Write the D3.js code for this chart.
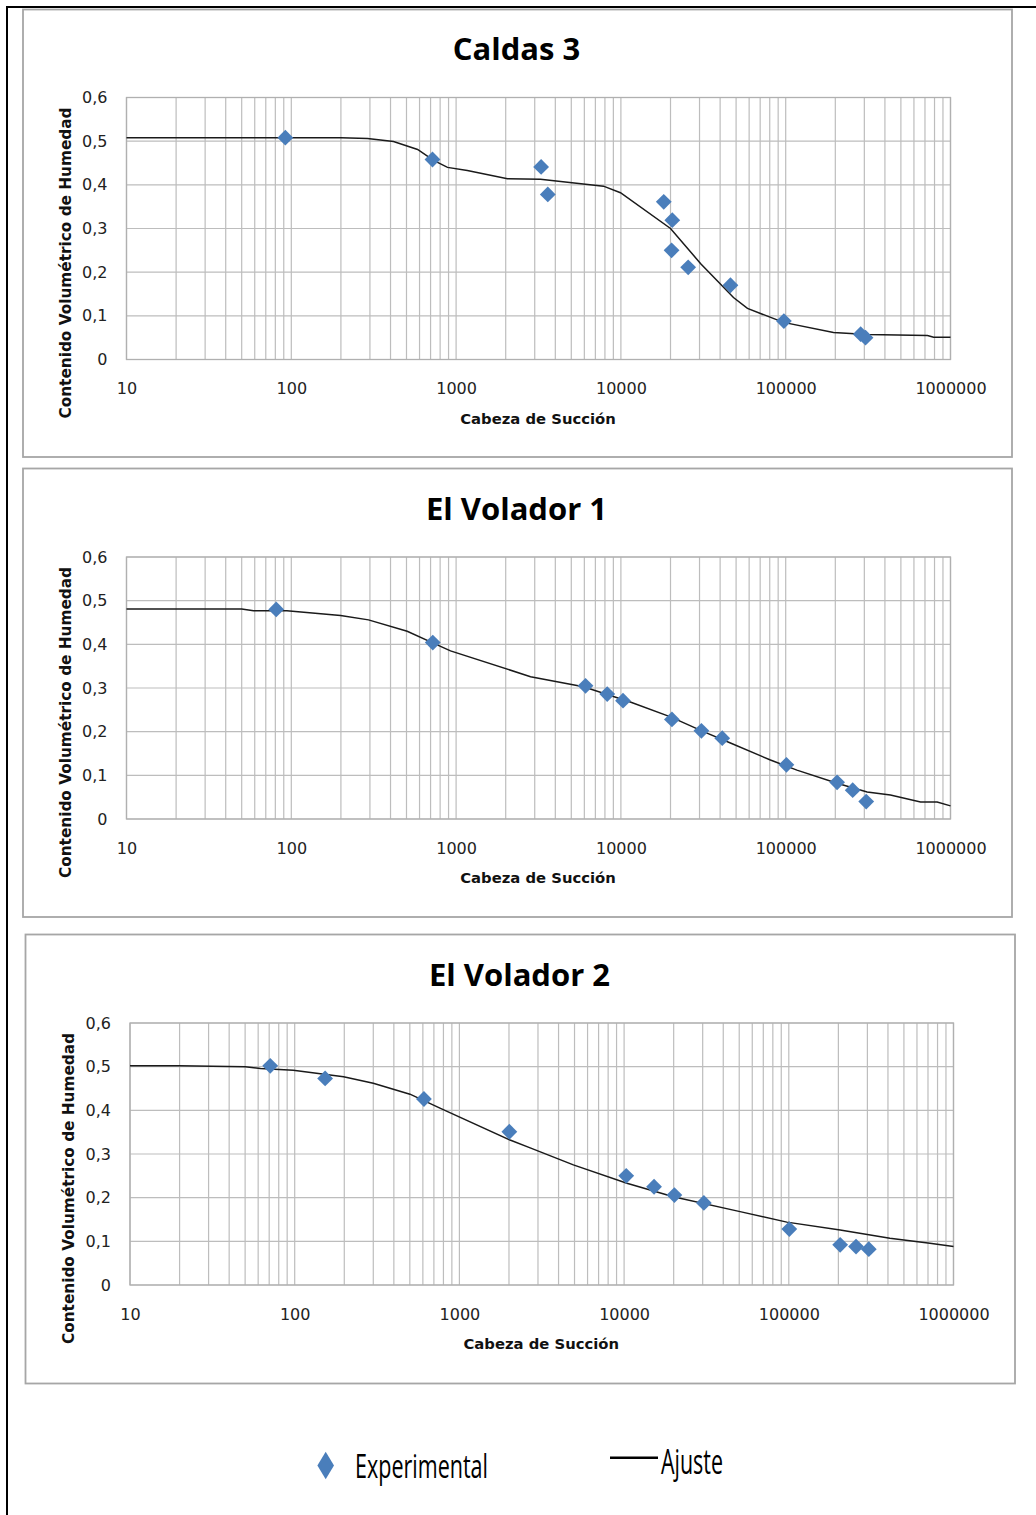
<!DOCTYPE html>
<html>
<head>
<meta charset="utf-8">
<script src="https://cdn.jsdelivr.net/npm/d3@7"></script>
<style>
body { margin: 0; background: #fff; }
svg { display: block; }
</style>
</head>
<body>
<svg id="chart" width="1036" height="1515"></svg>
<script>
// axis values
var xTicks = [10, 100, 1000, 10000, 100000, 1000000];
var yTicks = [0, 0.1, 0.2, 0.3, 0.4, 0.5, 0.6];
var titles = ["Caldas 3", "El Volador 1", "El Volador 2"];
var xTitle = "Cabeza de Succión";
var yTitle = "Contenido Volumétrico de Humedad";
var legendLabels = ["Experimental", "Ajuste"];

// Caldas 3
var caldas3ExpX = [92, 719, 3280, 3600, 18200, 20500, 20300, 25600, 46200, 97500, 285000, 305000];
var caldas3ExpY = [0.508, 0.458, 0.441, 0.378, 0.361, 0.319, 0.250, 0.211, 0.170, 0.088, 0.058, 0.050];
var caldas3FitX = [10, 200, 290, 417, 584, 730, 887, 1170, 2050, 3250, 7840, 9940, 20000, 30400, 48200, 58600, 97000, 195000, 313000, 725000, 790000, 1000000];
var caldas3FitY = [0.508, 0.508, 0.506, 0.499, 0.481, 0.456, 0.440, 0.433, 0.414, 0.413, 0.397, 0.382, 0.300, 0.220, 0.142, 0.117, 0.085, 0.062, 0.057, 0.055, 0.051, 0.051];

// El Volador 1
var volador1ExpX = [81, 722, 6100, 8260, 10300, 20400, 30800, 41200, 101000, 205000, 255000, 308000];
var volador1ExpY = [0.480, 0.404, 0.305, 0.286, 0.271, 0.228, 0.202, 0.185, 0.124, 0.084, 0.066, 0.040];
var volador1FitX = [10, 50, 59, 71, 94, 199, 294, 505, 716, 925, 2830, 5930, 11400, 20000, 31700, 46200, 80800, 117000, 205000, 312000, 432000, 658000, 830000, 1000000];
var volador1FitY = [0.481, 0.481, 0.477, 0.477, 0.477, 0.466, 0.456, 0.430, 0.404, 0.385, 0.326, 0.303, 0.268, 0.234, 0.200, 0.174, 0.135, 0.112, 0.082, 0.062, 0.055, 0.039, 0.039, 0.030];

// El Volador 2
var volador2ExpX = [71, 153, 609, 2010, 10300, 15200, 20200, 30500, 100700, 205000, 256000, 306000];
var volador2ExpY = [0.502, 0.473, 0.426, 0.351, 0.250, 0.225, 0.206, 0.188, 0.128, 0.092, 0.088, 0.082];
var volador2FitX = [10, 20, 50, 62, 98, 198, 300, 501, 762, 2030, 2690, 4920, 10400, 19900, 50600, 97300, 205000, 411000, 719000, 1000000];
var volador2FitY = [0.502, 0.502, 0.500, 0.496, 0.492, 0.477, 0.462, 0.437, 0.405, 0.332, 0.314, 0.275, 0.233, 0.202, 0.168, 0.144, 0.126, 0.107, 0.0955, 0.088];

var blue = "#4a7ebb";
var gridColor = "#bdbdbd";

var svg = d3.select("#chart");

// outer frame (only left and top visible)
svg.append("line").attr("x1", 7).attr("y1", 6).attr("x2", 7).attr("y2", 1515)
  .attr("stroke", "#000").attr("stroke-width", 2);
svg.append("line").attr("x1", 6).attr("y1", 7).attr("x2", 1036).attr("y2", 7)
  .attr("stroke", "#000").attr("stroke-width", 2);

var panels = [
  { title: titles[0], ex: caldas3ExpX, ey: caldas3ExpY, fx: caldas3FitX, fy: caldas3FitY,
    box: [23, 9.5, 1012, 457], plot: [126.5, 97.5, 950.5, 359.5], titleX: 516.5, titleY: 60 },
  { title: titles[1], ex: volador1ExpX, ey: volador1ExpY, fx: volador1FitX, fy: volador1FitY,
    box: [23, 468.5, 1012, 917], plot: [126.5, 557, 950.5, 819], titleX: 516.5, titleY: 520 },
  { title: titles[2], ex: volador2ExpX, ey: volador2ExpY, fx: volador2FitX, fy: volador2FitY,
    box: [25.5, 934.5, 1015, 1383.5], plot: [130, 1023, 953.5, 1285], titleX: 519.5, titleY: 986 }
];

var commaFmt = d3.formatLocale({ decimal: ",", thousands: ".", grouping: [3], currency: ["", ""] }).format(".1f");

panels.forEach(function (p) {
  var left = p.plot[0], top = p.plot[1], right = p.plot[2], bottom = p.plot[3];

  // panel box
  svg.append("rect")
    .attr("x", p.box[0]).attr("y", p.box[1])
    .attr("width", p.box[2] - p.box[0]).attr("height", p.box[3] - p.box[1])
    .attr("fill", "#fff").attr("stroke", "#a6a6a6").attr("stroke-width", 1.8);

  svg.append("text")
    .attr("x", p.titleX).attr("y", p.titleY)
    .attr("text-anchor", "middle")
    .style("font-family", "'Open Sans', sans-serif")
    .style("font-weight", "bold")
    .style("font-size", "31px")
    .style("fill", "#000")
    .text(p.title);

  var x = d3.scaleLog().domain([10, 1000000]).range([left, right]);
  var y = d3.scaleLinear().domain([0, 0.6]).range([bottom, top]);

  var g = svg.append("g");

  // grid
  g.selectAll(".vgrid").data(x.ticks()).enter().append("line")
    .attr("x1", function (d) { return x(d); }).attr("x2", function (d) { return x(d); })
    .attr("y1", top).attr("y2", bottom)
    .attr("stroke", gridColor).attr("stroke-width", 1.2);
  g.selectAll(".hgrid").data(yTicks).enter().append("line")
    .attr("x1", left).attr("x2", right)
    .attr("y1", function (d) { return y(d); }).attr("y2", function (d) { return y(d); })
    .attr("stroke", gridColor).attr("stroke-width", 1.2);
  g.append("rect")
    .attr("x", left).attr("y", top).attr("width", right - left).attr("height", bottom - top)
    .attr("fill", "none").attr("stroke", "#b0b0b0").attr("stroke-width", 1.3);

  // axes labels
  var yAxis = d3.axisLeft(y).tickValues(yTicks).tickSize(0).tickPadding(19)
    .tickFormat(function (d) { return d === 0 ? "0" : commaFmt(d); });
  var gy = g.append("g").attr("transform", "translate(" + left + ",0)").call(yAxis);
  gy.select(".domain").remove();
  gy.selectAll("text").style("font-family", "'DejaVu Sans', sans-serif").style("font-size", "16px").style("fill", "#222");

  var xAxis = d3.axisBottom(x).tickValues(xTicks).tickSize(0).tickPadding(23.5)
    .tickFormat(d3.format("d"));
  var gx = g.append("g").attr("transform", "translate(0," + bottom + ")").call(xAxis);
  gx.select(".domain").remove();
  gx.selectAll("text").style("font-family", "'DejaVu Sans', sans-serif").style("font-size", "16px").style("fill", "#222");

  // axis titles
  g.append("text")
    .attr("x", (left + right) / 2 - 0.5).attr("y", bottom + 64)
    .attr("text-anchor", "middle")
    .style("font-family", "'DejaVu Sans', sans-serif").style("font-weight", "bold")
    .style("font-size", "14.8px").style("fill", "#111")
    .text(xTitle);
  g.append("text")
    .attr("transform", "translate(" + (left - 56) + "," + (top + 165.5) + ") rotate(-90)")
    .attr("text-anchor", "middle")
    .style("font-family", "'DejaVu Sans', sans-serif").style("font-weight", "bold")
    .style("font-size", "15.3px").style("fill", "#111")
    .text(yTitle);

  // fitted curve
  var fit = p.fx.map(function (v, i) { return [v, p.fy[i]]; });
  g.append("path")
    .datum(fit)
    .attr("fill", "none").attr("stroke", "#1a1a1a").attr("stroke-width", 1.5)
    .attr("d", d3.line().x(function (d) { return x(d[0]); }).y(function (d) { return y(d[1]); }));

  // experimental points
  var exp = p.ex.map(function (v, i) { return [v, p.ey[i]]; });
  g.selectAll(".pt").data(exp).enter().append("path")
    .attr("transform", function (d) { return "translate(" + x(d[0]) + "," + y(d[1]) + ") rotate(45)"; })
    .attr("d", d3.symbol().type(d3.symbolSquare).size(125))
    .attr("fill", blue);
});

// legend
svg.append("path")
  .attr("d", "M325.7,1451.7 L334,1465.5 L325.7,1479.3 L317.4,1465.5 Z")
  .attr("fill", blue);
svg.append("text")
  .attr("x", 355).attr("y", 1477.5)
  .attr("textLength", 133).attr("lengthAdjust", "spacingAndGlyphs")
  .style("font-family", "'Open Sans', sans-serif").style("font-size", "33px").style("fill", "#000")
  .text(legendLabels[0]);
svg.append("line")
  .attr("x1", 610).attr("x2", 658).attr("y1", 1457.7).attr("y2", 1457.7)
  .attr("stroke", "#000").attr("stroke-width", 2.5);
svg.append("text")
  .attr("x", 661).attr("y", 1473.5)
  .attr("textLength", 62).attr("lengthAdjust", "spacingAndGlyphs")
  .style("font-family", "'Open Sans', sans-serif").style("font-size", "34px").style("fill", "#000")
  .text(legendLabels[1]);
</script>
</body>
</html>
